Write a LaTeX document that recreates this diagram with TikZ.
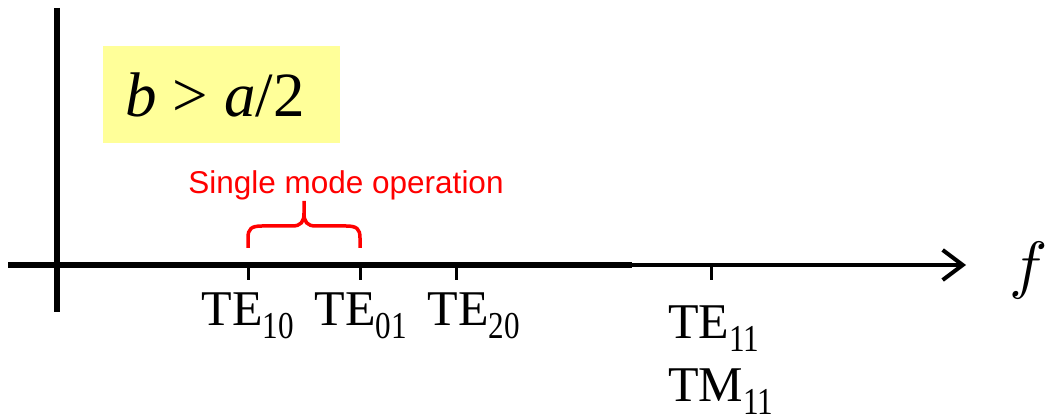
\documentclass[tikz,border=0pt]{standalone}
\usepackage{fontspec}
\usepackage{graphicx}
\setmainfont{Liberation Serif}[ItalicFont={Liberation Serif Italic}]
\newfontfamily\serifit{Liberation Serif Italic}
\newfontfamily\arialfont{Liberation Sans}
\usetikzlibrary{arrows.meta}
\definecolor{condfill}{HTML}{FFFF99}
\definecolor{bracered}{HTML}{FF0000}
% lowered, slightly condensed mode indices
\newcommand{\modesub}[1]{\raisebox{-13pt}{\scalebox{0.82}[1]{\fontsize{38}{38}\selectfont #1}}}
\begin{document}
\begin{tikzpicture}[x=1pt, y=-1pt,
  axisthick/.style={line width=5.5pt},
  axisthin/.style={line width=4pt, -{Straight Barb[length=20pt, width=30pt]}},
  tickmark/.style={line width=3pt},
  modelabel/.style={anchor=base, inner sep=0pt, font=\fontsize{50}{50}\selectfont},
  bracepath/.style={draw=bracered, line width=3.5pt},
]
\useasboundingbox (0,0) rectangle (1049,419);

% condition box
\node[fill=condfill, minimum width=237pt, minimum height=97pt, anchor=north west, inner sep=0pt] (cond) at (103,46) {};
\node[anchor=base, inner sep=0pt, font=\fontsize{63}{63}\selectfont] (condtext) at (215,117) {{\serifit b} > {\serifit a}/2};

% axes
\coordinate (ytop) at (57,8);
\coordinate (ybot) at (57,312);
\coordinate (xstart) at (8,265);
\coordinate (xmid) at (632,265);
\coordinate (xend) at (966,265);
\draw[axisthick] (ytop) -- (ybot);
\draw[axisthick] (xstart) -- (xmid);
\draw[axisthin] (xmid) -- (xend);

% cutoff frequency ticks
\coordinate (t10) at (248,265);
\coordinate (t01) at (360,265);
\coordinate (t20) at (456,265);
\coordinate (t11) at (711,265);
\foreach \t in {t10,t01,t20,t11} \draw[tickmark] (\t) -- ++(0,15);

% mode labels
\node[modelabel] (te10) at (248,326) {TE\modesub{10}};
\node[modelabel] (te01) at (361,326) {TE\modesub{01}};
\node[modelabel] (te20) at (474,326) {TE\modesub{20}};
\node[modelabel, anchor=base west] (te11) at (668,339) {TE\modesub{11}};
\node[modelabel, anchor=base west] (tm11) at (668,401) {TM\modesub{11}};

% axis label
\node[anchor=base, inner sep=0pt] (flabel) at (1029,287) {\scalebox{6.4}{$f$}};

% single-mode band
\node[anchor=base, inner sep=0pt, text=bracered, font=\arialfont\fontsize{31.5}{31.5}\selectfont] (single) at (346,194) {Single mode operation};
\draw[bracepath] (248,248) -- (248,238) .. controls (248,229) and (251,226) .. (262,226)
  -- (292,226) .. controls (301,226) and (304,222) .. (304,213) -- (304,201)
  (304,213) .. controls (304,222) and (307,226) .. (316,226)
  -- (346,226) .. controls (357,226) and (360,229) .. (360,238) -- (360,248);
\end{tikzpicture}
\end{document}
